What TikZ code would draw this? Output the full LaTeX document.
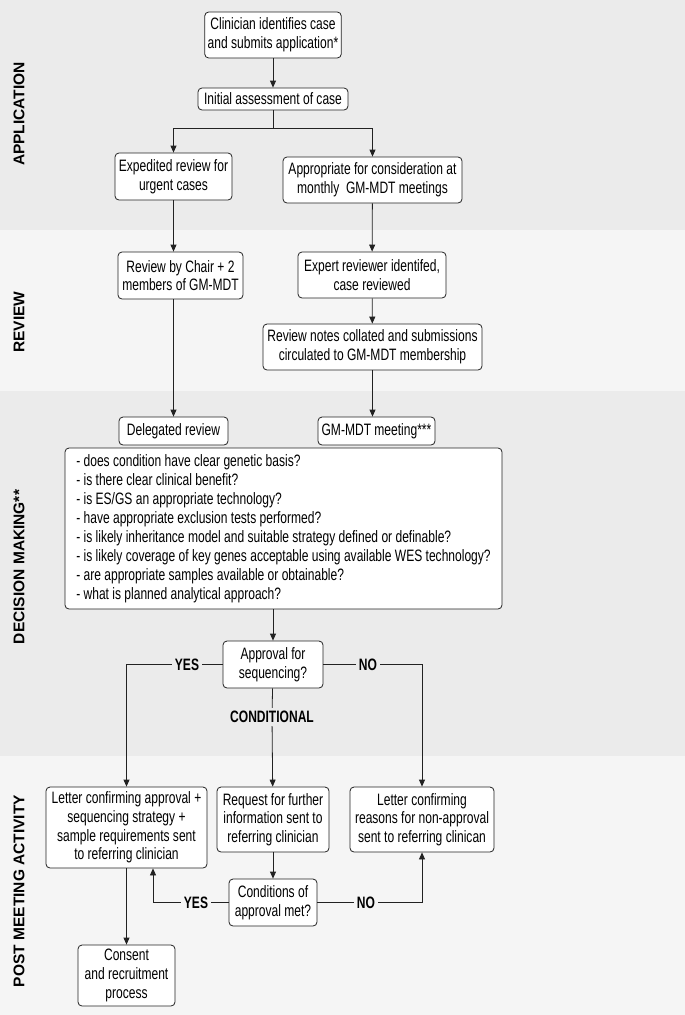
\documentclass[tikz,border=0pt]{standalone}
\usepackage{fontspec}
\setmainfont{Liberation Sans}
\newfontfamily\narrowfont[FakeStretch=0.73]{Liberation Sans}
\usetikzlibrary{arrows.meta,calc}
\definecolor{banddark}{HTML}{EBEBEB}
\definecolor{bandlight}{HTML}{F5F5F5}
\definecolor{edge}{HTML}{222222}
\tikzset{
  box/.style={draw=edge, fill=white, line width=0.8pt, rounded corners=4pt, align=center,
    inner xsep=3pt, inner ysep=2pt, font=\narrowfont\fontsize{16.5}{18.7}\selectfont},
  phase/.style={rotate=90, font=\bfseries\fontsize{15.5}{18}\selectfont},
  verdict/.style={font=\narrowfont\bfseries\fontsize{16.5}{18}\selectfont, inner sep=3pt},
  flow/.style={draw=edge, line width=0.8pt},
  arr/.style={flow, -{Triangle[length=7pt,width=6pt]}}
}

\begin{document}
\begin{tikzpicture}[x=1pt, y=-1pt]
			%%%%% START %%%%%
			\useasboundingbox (0,0) rectangle (685,1015);
			
			% bands
			\fill[banddark] (0,0) rectangle (685,230);
			\fill[bandlight] (0,230) rectangle (685,391);
			\fill[banddark] (0,391) rectangle (685,756);
			\fill[bandlight] (0,756) rectangle (685,1015);
			
			\node[phase] (lblApp) at (19,114) {APPLICATION};
			\node[phase] (lblRev) at (19,322) {REVIEW};
			\node[phase] (lblDec) at (19,567) {DECISION MAKING**};
			\node[phase] (lblPost) at (19,891) {POST MEETING ACTIVITY};
			
			% application
			\node[box, minimum width=134pt, minimum height=46pt] (clin) at (273,35) {Clinician identifies case\\and submits application*};
			\node[box, minimum width=150pt, minimum height=22pt] (init) at (273,99) {Initial assessment of case};
			\node[box, minimum width=117pt, minimum height=47pt] (exped) at (173.5,176.5) {Expedited review for\\urgent cases};
			\node[box, minimum width=179pt, minimum height=46pt] (approp) at (372.5,180) {Appropriate for consideration at\\monthly\ \ GM-MDT meetings};
			\coordinate (split) at (273,128);
			
			\draw[arr] (clin) -- (init);
			\draw[flow] (init) -- (split);
			\draw[arr] (split) -| (exped);
			\draw[arr] (split) -| (approp);
			
			% review
			\node[box, minimum width=125pt, minimum height=47pt] (chair) at (180.5,275.5) {Review by Chair + 2\\members of GM-MDT};
			\node[box, minimum width=148pt, minimum height=46pt] (expert) at (372,275) {Expert reviewer identifed,\\case reviewed};
			\node[box, minimum width=219pt, minimum height=46pt] (notes) at (372.5,347) {Review notes collated and submissions\\circulated to GM-MDT membership};
			
			\draw[arr] (exped) -- (exped |- chair.north);
			\draw[arr] (approp) -- (expert);
			\draw[arr] (expert) -- (notes);
			
			% decision making
			\node[box, minimum width=109pt, minimum height=28pt] (deleg) at (173.5,431) {Delegated review};
			\node[box, minimum width=117pt, minimum height=28pt] (meet) at (376.5,431) {GM-MDT meeting***};
			\node[box, minimum width=437pt, minimum height=161pt, align=left,
			  font=\narrowfont\fontsize{16.5}{19}\selectfont] (quest) at (283.5,528.5) {%
			  - does condition have clear genetic basis?\\
			  - is there clear clinical benefit?\\
			  - is ES/GS an appropriate technology?\\
			  - have appropriate exclusion tests performed?\\
			  - is likely inheritance model and suitable strategy defined or definable?\\
			  - is likely coverage of key genes acceptable using available WES technology?\\
			  - are appropriate samples available or obtainable?\\
			  - what is planned analytical approach?};
			\node[box, minimum width=100pt, minimum height=47pt] (appr) at (273,664.5) {Approval for\\sequencing?};
			\node[verdict] (yesA) at (187,664.5) {YES};
			\node[verdict] (noA) at (368,664.5) {NO};
			\node[verdict] (cond) at (272,717) {CONDITIONAL};
			
			\draw[arr] (chair.south -| deleg) -- (deleg);
			\draw[arr] (notes) -- (notes |- meet.north);
			\draw[arr] (quest.south -| appr) -- (appr);
			
			% post meeting activity
			\node[box, minimum width=161pt, minimum height=81pt] (letA) at (126.5,827.5) {Letter confirming approval +\\sequencing strategy +\\sample requirements sent\\to referring clinician};
			\node[box, minimum width=112pt, minimum height=65pt] (req) at (273,819.5) {Request for further\\information sent to\\referring clinician};
			\node[box, minimum width=144pt, minimum height=65pt] (letR) at (422,819.5) {Letter confirming\\reasons for non-approval\\sent to referring clinican};
			\node[box, minimum width=88pt, minimum height=47pt] (condm) at (273,902.5) {Conditions of\\approval met?};
			\node[box, minimum width=97pt, minimum height=61pt] (cons) at (126.5,975.5) {Consent\\and recruitment\\process};
			\node[verdict] (yesB) at (196,902.5) {YES};
			\node[verdict] (noB) at (366,902.5) {NO};
			
			\draw[flow] (appr) -- (yesA);
			\draw[arr] (yesA) -| (letA);
			\draw[flow] (appr) -- (noA);
			\draw[arr] (noA) -| (letR);
			\draw[flow] (appr) -- (cond);
			\draw[arr] (cond) -- (req);
			
			\draw[arr] (req) -- (condm);
			\draw[flow] (condm) -- (yesB);
			\draw[arr] (yesB) -| ([xshift=26.5pt]letA.south);
			\draw[flow] (condm) -- (noB);
			\draw[arr] (noB) -| (letR);
			\draw[arr] (letA) -- (cons);
			%%%%% END %%%%%
\end{tikzpicture}
\end{document}
